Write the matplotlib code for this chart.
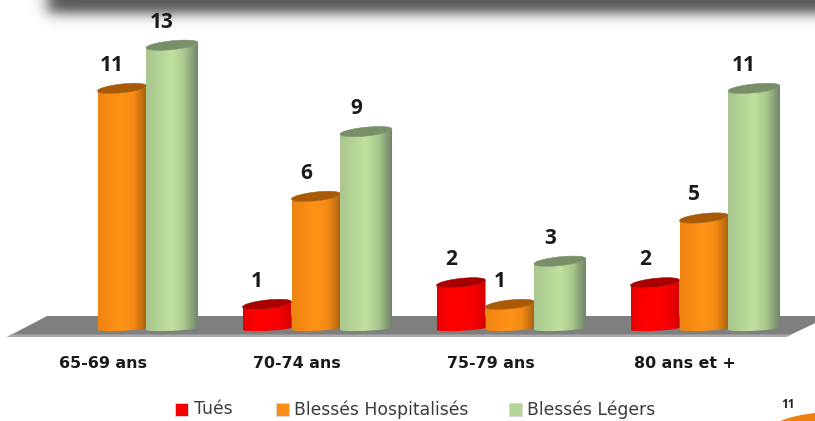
#!/usr/bin/env python3
import numpy as np
import matplotlib
matplotlib.use("Agg")
import matplotlib.pyplot as plt
from matplotlib.colors import LinearSegmentedColormap
from matplotlib.patches import Polygon, Rectangle, Ellipse

plt.rcParams['font.family'] = ['Open Sans', 'DejaVu Sans']

categories = ['65-69 ans', '70-74 ans', '75-79 ans', '80 ans et +']
tues = [None, 1, 2, 2]
hospitalises = [11, 6, 1, 5]
legers = [13, 9, 3, 11]

series_names = ['Tués', 'Blessés Hospitalisés', 'Blessés Légers']
legend_colors = ['#f40000', '#fb8d17', '#b5d595']
top_colors = ['#a80000', '#a85a06', '#788f68']
gradients = [
    ['#e60000', '#ff0000', '#ff0000', '#f80000', '#d40000'],
    ['#ee8412', '#f98b14', '#ff9416', '#f08813', '#a9610f'],
    ['#a9c78e', '#b4d396', '#bfe09e', '#a9c78c', '#72876a'],
]

W, H = 815, 421
PX_UNIT_X = 194.0     # pixels between groups
PX_UNIT_Y = 21.6      # pixels per person
X0, Y0 = 122.0, 326.0 # pixel position of first group / zero line
AX_BOTTOM = 345.0
BAR_W = [49 / PX_UNIT_X, 49 / PX_UNIT_X, 52 / PX_UNIT_X]
BAR_OFF = [-49 / PX_UNIT_X, 0, 50 / PX_UNIT_X]

fig = plt.figure(figsize=(W / 100, H / 100), dpi=100, facecolor='white')

# background layer in pixel coordinates: banner shadow, floor, legend, page mark
bg = fig.add_axes([0, 0, 1, 1])
bg.set_xlim(0, W)
bg.set_ylim(H, 0)
bg.axis('off')

xx, yy = np.meshgrid(np.arange(W), np.arange(40))
fade_y = 1 / (1 + np.exp((yy - 13) / 3.8))
fade_x = 1 / (1 + np.exp((47 - xx) / 4.5))
rgba = np.zeros((40, W, 4))
rgba[..., :3] = 0.36
rgba[..., 3] = np.clip(fade_y * fade_x * 1.05, 0, 1)
bg.imshow(rgba, extent=(0, W, 40, 0), aspect='auto', zorder=1)

bg.add_patch(Polygon([(7, 337), (47, 316), (830, 316), (786, 337)], closed=True,
                     facecolor='#7f7f7f', edgecolor='none', zorder=2))
bg.add_patch(Polygon([(7, 337), (11, 334.5), (790, 334.5), (786, 337)], closed=True,
                     facecolor='#a9a9a9', edgecolor='none', zorder=2))

for sx, tx, name, col in zip([175, 276, 509], [194, 294, 527], series_names, legend_colors):
    bg.add_patch(Rectangle((sx, 403), 13, 13, facecolor=col, edgecolor='#d8d8d8', linewidth=0.6))
    bg.text(tx, 409.5, name, fontsize=12.4, color='#3c3c3c', va='center', ha='left',
            family=['DejaVu Sans'])

bg.add_patch(Ellipse((835, 436), 140, 48, facecolor='#ee7f10', edgecolor='none'))
bg.text(788, 404, '11', fontsize=8.5, fontweight='bold', color='#222222', ha='center', va='center')
bg.set_xlim(0, W)
bg.set_ylim(H, 0)

# data layer
ax = fig.add_axes([0, 1 - AX_BOTTOM / H, 1, AX_BOTTOM / H])
ax.patch.set_alpha(0)
xlim = (-X0 / PX_UNIT_X, (W - X0) / PX_UNIT_X)
ylim = ((Y0 - AX_BOTTOM) / PX_UNIT_Y, Y0 / PX_UNIT_Y)


def cylinder(ax, xc, val, idx):
    a = BAR_W[idx] / 2
    b_top = 4.4 / PX_UNIT_Y
    tilt_top = 2.6 / PX_UNIT_Y
    base = -2.6 / PX_UNIT_Y
    b_bot = 2.2 / PX_UNIT_Y
    tilt_bot = 1.2 / PX_UNIT_Y
    t_front = np.linspace(np.pi, 2 * np.pi, 40)
    bot_x = xc + a * np.cos(t_front)
    bot_y = base + b_bot * np.sin(t_front) + tilt_bot * np.cos(t_front)
    # front edge of the top ellipse closes the body
    top_x = xc + a * np.cos(t_front[::-1])
    top_y = val + b_top * np.sin(t_front[::-1]) + tilt_top * np.cos(t_front[::-1])
    body = np.vstack([np.column_stack([bot_x, bot_y]), np.column_stack([top_x, top_y])])
    patch = Polygon(body, closed=True, facecolor='none', edgecolor='none', zorder=3 + idx)
    ax.add_patch(patch)
    cmap = LinearSegmentedColormap.from_list('cyl', gradients[idx])
    im = ax.imshow(np.linspace(0, 1, 64).reshape(1, -1), cmap=cmap, aspect='auto',
                   extent=(xc - a, xc + a, -0.4, val + 0.5), zorder=3 + idx)
    im.set_clip_path(patch)
    t = np.linspace(0, 2 * np.pi, 80)
    ax.fill(xc + a * np.cos(t), val + b_top * np.sin(t) + tilt_top * np.cos(t),
            color=top_colors[idx], linewidth=0.4, zorder=3.5 + idx)


for idx, values in enumerate([tues, hospitalises, legers]):
    for i, val in enumerate(values):
        if val is None:
            continue
        xc = i + BAR_OFF[idx]
        cylinder(ax, xc, val, idx)
        ax.annotate(str(val), (xc, val), xytext=(-7.2, 16.6), textcoords='offset points',
                    ha='center', va='center', fontsize=15, fontweight='bold',
                    color='#1a1a1a', zorder=10)

ax.set_xlim(xlim)
ax.set_ylim(ylim)
ax.set_xticks(np.arange(len(categories)) - 0.1)
ax.set_xticklabels(categories, fontsize=11.4, fontweight='bold', color='#1a1a1a',
                   family=['DejaVu Sans'])
ax.tick_params(axis='x', length=0, pad=8)
ax.set_yticks([])
for side in ax.spines.values():
    side.set_visible(False)

fig.savefig('out.png', dpi=100)
plt.close(fig)
